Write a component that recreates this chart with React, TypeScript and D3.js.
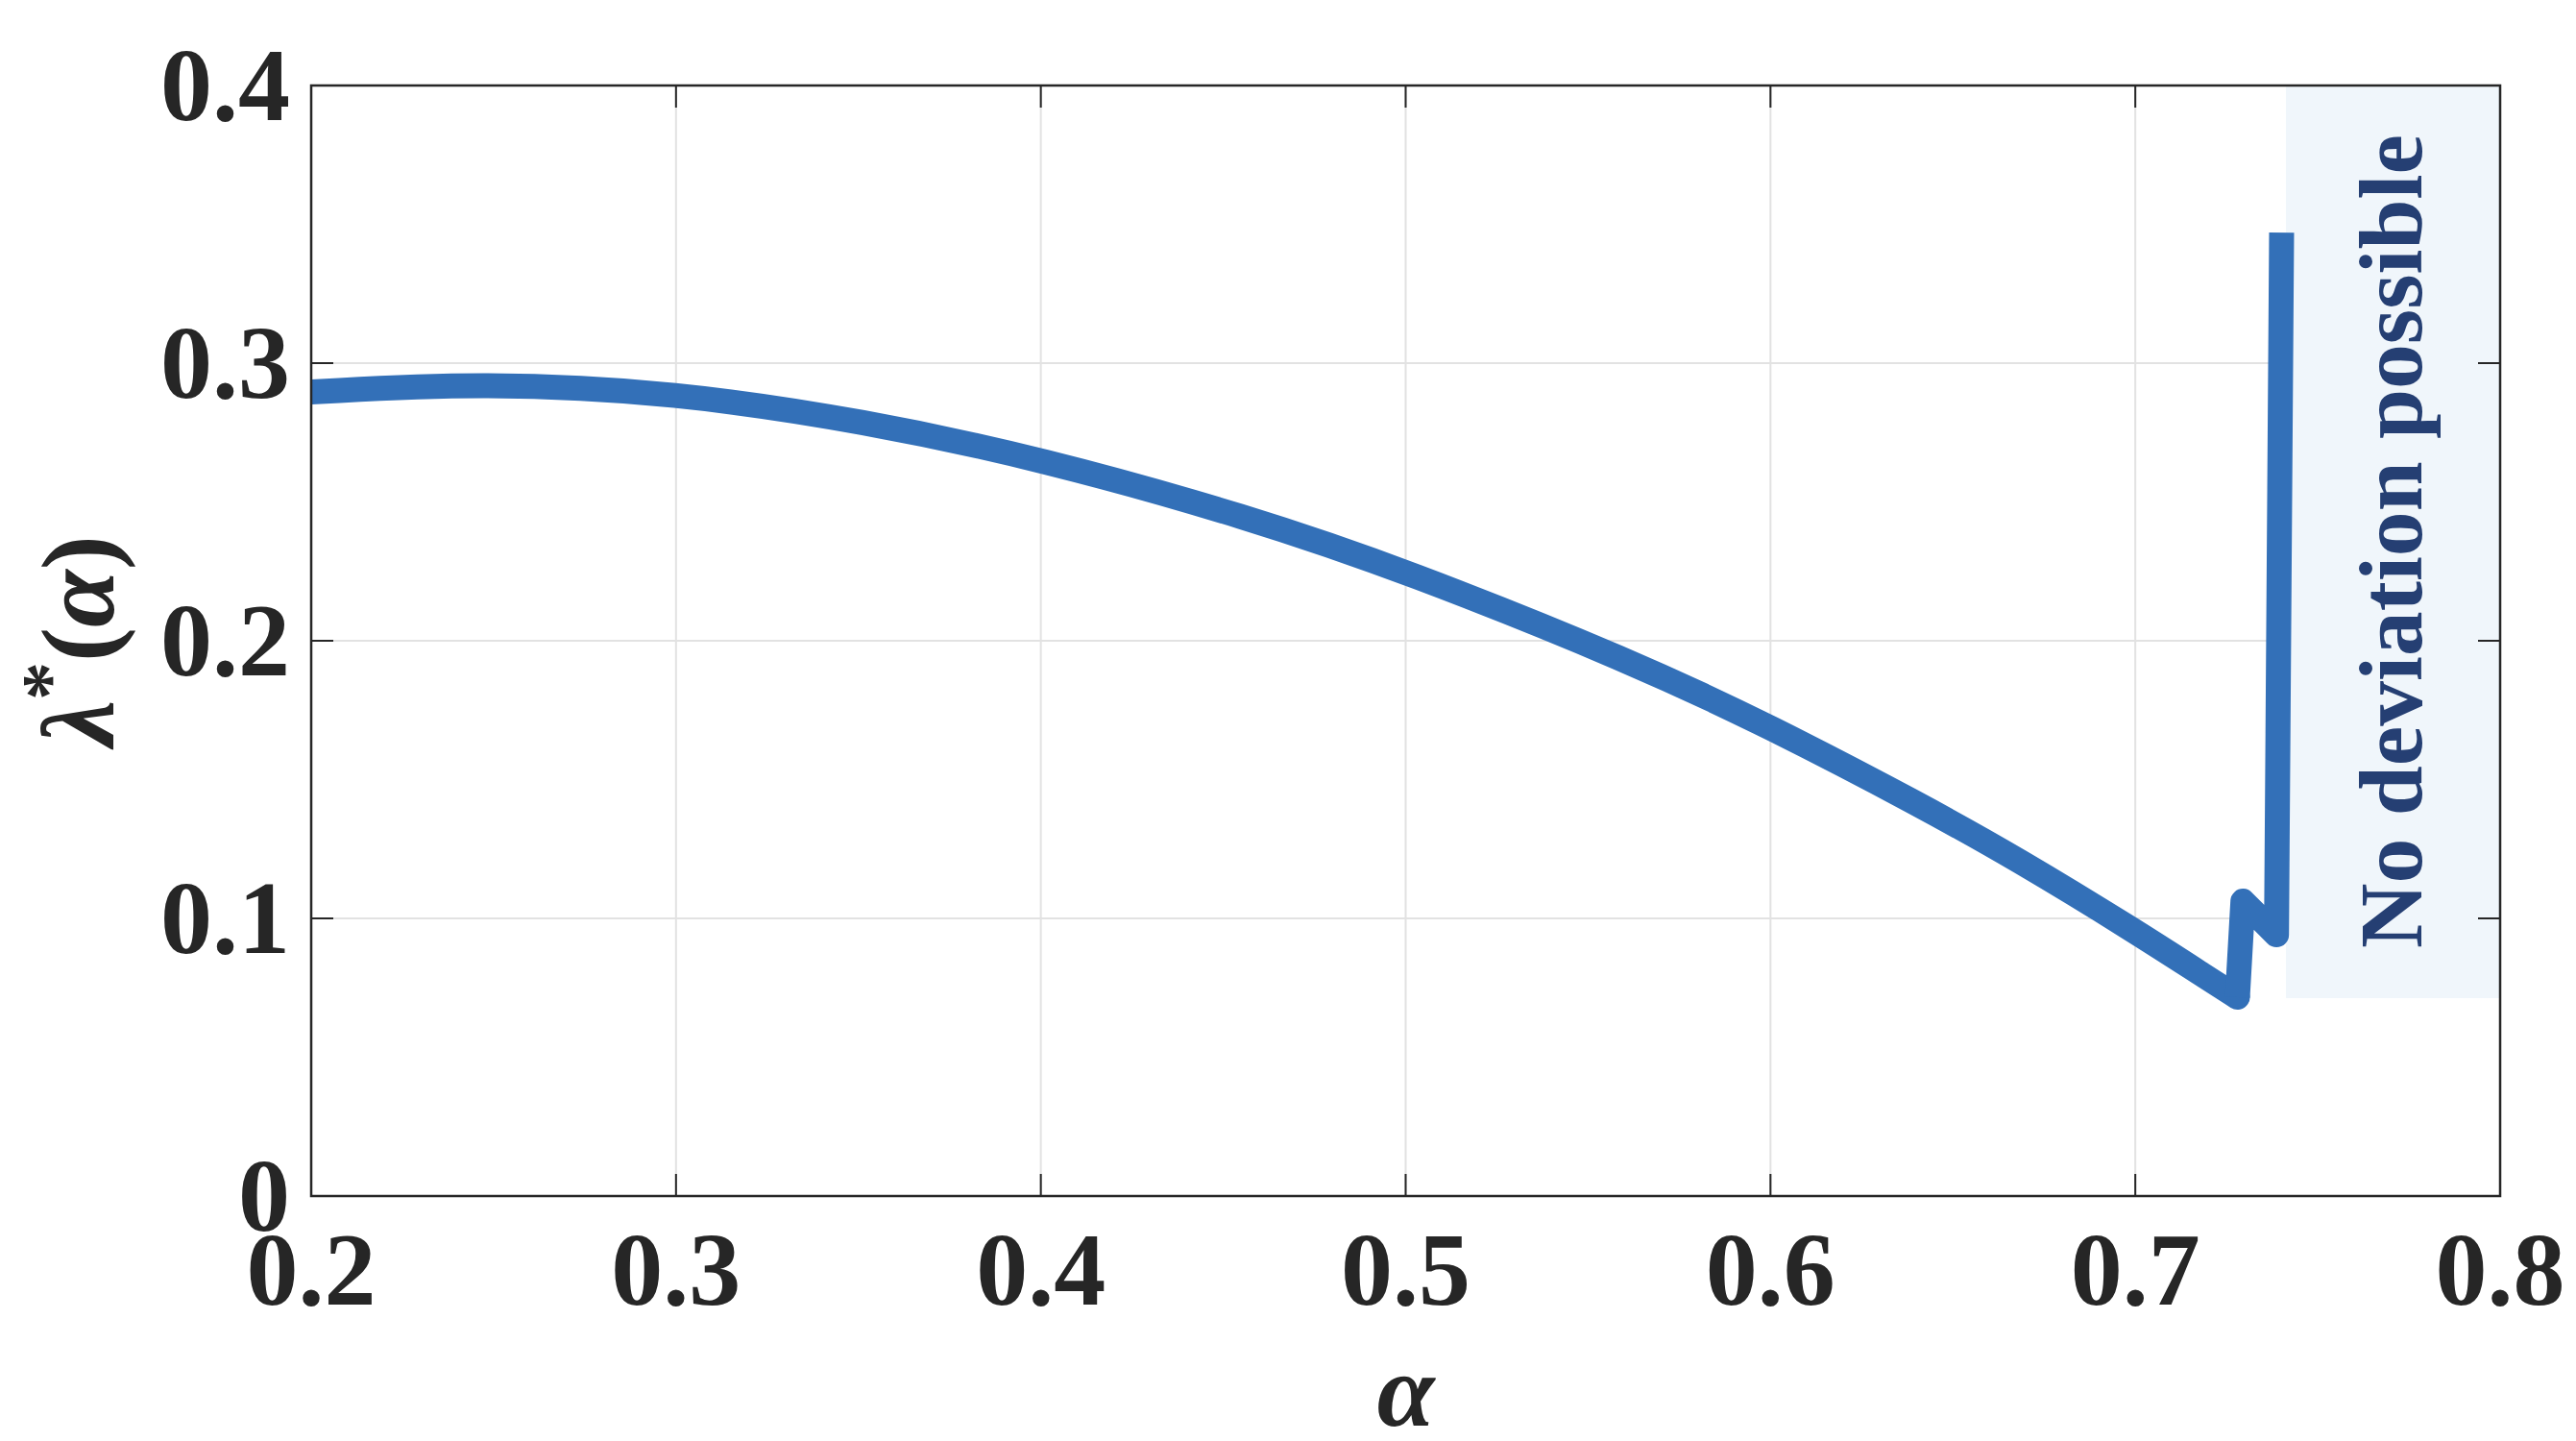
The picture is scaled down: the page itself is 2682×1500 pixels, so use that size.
import React from "react";
import * as d3 from "d3";

// smooth branch of lambda*(alpha)
const alphaSmooth = [0.2, 0.2463, 0.3, 0.3517, 0.4, 0.457, 0.5, 0.5623, 0.6, 0.6413, 0.6676, 0.7, 0.7203, 0.728];
const lambdaSmooth = [0.2896, 0.293, 0.2895, 0.2791, 0.2656, 0.2445, 0.2252, 0.1924, 0.169, 0.1407, 0.1214, 0.0954, 0.0781, 0.0716];

// jump near the boundary
const alphaJump = [0.728, 0.7295, 0.7387, 0.7401];
const lambdaJump = [0.0716, 0.1062, 0.0941, 0.347];

// shaded "no deviation" region
const regionAlpha = [0.7413, 0.8];
const regionLambda = [0.0713, 0.4];

const xTicks = [0.2, 0.3, 0.4, 0.5, 0.6, 0.7, 0.8];
const yTicks = [0, 0.1, 0.2, 0.3, 0.4];

const W = 2682;
const H = 1500;
const left = 324;
const right = 2603;
const top = 89;
const bottom = 1245;

const FONT = "'Times New Roman', 'Liberation Serif', Times, serif";
const TXT = "#262626";

export default function App() {
	const x = d3.scaleLinear().domain([0.2, 0.8]).range([left, right]);
	const y = d3.scaleLinear().domain([0, 0.4]).range([bottom, top]);

	const smooth = d3
		.line<number>()
		.x((d) => x(d))
		.y((_, i) => y(lambdaSmooth[i]))
		.curve(d3.curveBasis)(alphaSmooth);

	const jump = d3
		.line<number>()
		.x((d) => x(d))
		.y((_, i) => y(lambdaJump[i]))(alphaJump);

	const rx0 = x(regionAlpha[0]);
	const rx1 = x(regionAlpha[1]);
	const ry0 = y(regionLambda[1]);
	const ry1 = y(regionLambda[0]);

	return (
		<svg
			width={W}
			height={H}
			style={{ position: "absolute", left: 0, top: 0, background: "#fff" }}
		>
			<defs>
				<clipPath id="plot">
					<rect x={left} y={top} width={right - left} height={bottom - top} />
				</clipPath>
			</defs>

			{/* grid */}
			{xTicks.map((t) => (
				<line key={"gx" + t} x1={x(t)} x2={x(t)} y1={top} y2={bottom} stroke="#e2e2e2" strokeWidth={2} />
			))}
			{yTicks.map((t) => (
				<line key={"gy" + t} x1={left} x2={right} y1={y(t)} y2={y(t)} stroke="#e2e2e2" strokeWidth={2} />
			))}

			<rect x={rx0} y={ry0} width={rx1 - rx0} height={ry1 - ry0} fill="#f0f6fb" />

			<g clipPath="url(#plot)" fill="none" stroke="#3370b8" strokeWidth={26}>
				<path d={smooth || ""} strokeLinecap="round" strokeLinejoin="round" />
				<path d={jump || ""} strokeLinecap="butt" strokeLinejoin="round" />
			</g>

			<text
				transform={`translate(${rx0 + 141},${ry1 - 52}) rotate(-90)`}
				fontFamily={FONT}
				fontWeight="bold"
				fontSize={94}
				fill="#253f73"
				textLength={847}
				lengthAdjust="spacingAndGlyphs"
			>
				No deviation possible
			</text>

			{/* ticks */}
			{xTicks.map((t) => (
				<g key={"tx" + t}>
					<line x1={x(t)} x2={x(t)} y1={bottom} y2={bottom - 23} stroke={TXT} strokeWidth={2} />
					<line x1={x(t)} x2={x(t)} y1={top} y2={top + 23} stroke={TXT} strokeWidth={2} />
				</g>
			))}
			{yTicks.map((t) => (
				<g key={"ty" + t}>
					<line x1={left} x2={left + 23} y1={y(t)} y2={y(t)} stroke={TXT} strokeWidth={2} />
					<line x1={right} x2={right - 23} y1={y(t)} y2={y(t)} stroke={TXT} strokeWidth={2} />
				</g>
			))}

			<rect x={left} y={top} width={right - left} height={bottom - top} fill="none" stroke={TXT} strokeWidth={2.5} />

			{/* tick labels */}
			<g fontFamily={FONT} fontWeight="bold" fontSize={108} fill={TXT}>
				{xTicks.map((t) => (
					<text key={"lx" + t} x={x(t)} y={bottom + 113} textAnchor="middle">
						{d3.format(".1f")(t)}
					</text>
				))}
				{yTicks.map((t) => (
					<text key={"ly" + t} x={left - 22} y={y(t) + 36} textAnchor="end">
						{t === 0 ? "0" : d3.format(".1f")(t)}
					</text>
				))}
			</g>

			{/* axis labels */}
			<text
				x={(left + right) / 2}
				y={1484}
				textAnchor="middle"
				fontFamily={FONT}
				fontWeight="bold"
				fontStyle="italic"
				fontSize={108}
				fill={TXT}
			>
				α
			</text>
			<text
				transform={`translate(118,${(top + bottom) / 2}) rotate(-90)`}
				textAnchor="middle"
				fontFamily={FONT}
				fontWeight="bold"
				fontSize={108}
				fill={TXT}
			>
				<tspan fontStyle="italic">λ</tspan>
				<tspan dy={-40} fontSize={80}>*</tspan>
				<tspan dy={40}>(</tspan>
				<tspan fontStyle="italic">α</tspan>
				<tspan>)</tspan>
			</text>
		</svg>
	);
}
